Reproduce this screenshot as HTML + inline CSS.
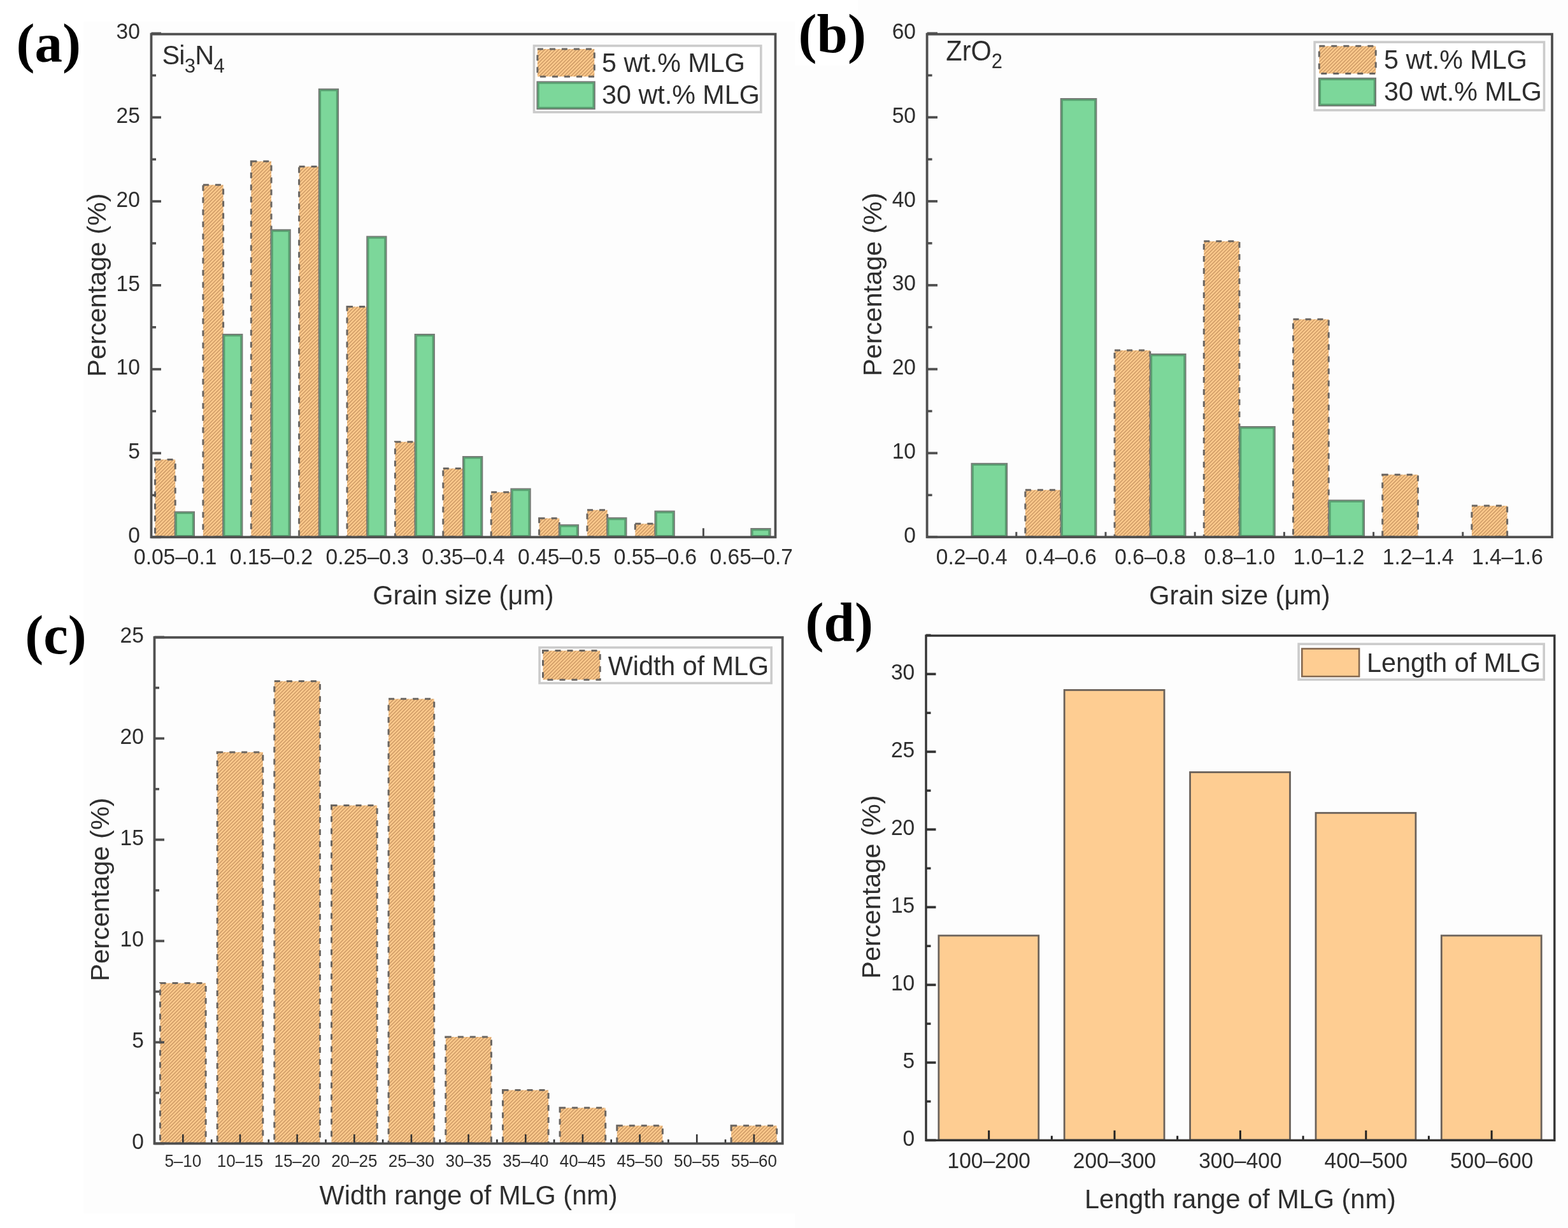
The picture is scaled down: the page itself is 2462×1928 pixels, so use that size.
<!DOCTYPE html>
<html lang="en"><head><meta charset="utf-8"><title>Grain size and MLG distributions</title>
<style>html,body{margin:0;padding:0;background:#fff;overflow:hidden;width:2462px;height:1928px}svg{display:block}</style>
</head><body>
<svg width="2462" height="1928" viewBox="0 0 2462 1928">
<defs>
<pattern id="hatch" patternUnits="userSpaceOnUse" width="3.9" height="3.9" patternTransform="rotate(45)"><rect width="3.9" height="3.9" fill="#ffcc8e"/><rect width="1.55" height="3.9" fill="#cb9863"/></pattern>
</defs>
<rect width="2462" height="1928" fill="#ffffff"/>
<rect x="131" y="34" width="1117" height="926" fill="#fdfdfd"/>
<rect x="1248" y="0" width="1214" height="960" fill="#fdfdfd"/>
<rect x="1248" y="0" width="99" height="103" fill="#ffffff"/>
<rect x="131" y="960" width="1117" height="945" fill="#fdfdfd"/>
<rect x="1248" y="960" width="1214" height="968" fill="#fdfdfd"/>
<line x1="1104.4" y1="843.3" x2="1104.4" y2="829.3" stroke="#4f4f4f" stroke-width="3"/>
<rect x="243.5" y="721.5" width="31.7" height="121.3" fill="url(#hatch)" stroke="#6b6661" stroke-width="3" stroke-dasharray="9 10"/>
<rect x="274.8" y="803.8" width="30.1" height="39.4" fill="#7cd79a" stroke="#767b76" stroke-width="2.2"/>
<rect x="276.8" y="805.8" width="26.1" height="35.4" fill="none" stroke="#58a070" stroke-width="2.4"/>
<rect x="318.9" y="290.3" width="31.7" height="552.5" fill="url(#hatch)" stroke="#6b6661" stroke-width="3" stroke-dasharray="9 10"/>
<rect x="350.2" y="525.1" width="30.1" height="318.1" fill="#7cd79a" stroke="#767b76" stroke-width="2.2"/>
<rect x="352.2" y="527.1" width="26.1" height="314.1" fill="none" stroke="#58a070" stroke-width="2.4"/>
<rect x="394.3" y="253.3" width="31.7" height="589.5" fill="url(#hatch)" stroke="#6b6661" stroke-width="3" stroke-dasharray="9 10"/>
<rect x="425.6" y="360.9" width="30.1" height="482.3" fill="#7cd79a" stroke="#767b76" stroke-width="2.2"/>
<rect x="427.6" y="362.9" width="26.1" height="478.3" fill="none" stroke="#58a070" stroke-width="2.4"/>
<rect x="469.6" y="261.5" width="31.7" height="581.3" fill="url(#hatch)" stroke="#6b6661" stroke-width="3" stroke-dasharray="9 10"/>
<rect x="500.9" y="140" width="30.1" height="703.2" fill="#7cd79a" stroke="#767b76" stroke-width="2.2"/>
<rect x="502.9" y="142" width="26.1" height="699.2" fill="none" stroke="#58a070" stroke-width="2.4"/>
<rect x="545" y="481.5" width="31.7" height="361.3" fill="url(#hatch)" stroke="#6b6661" stroke-width="3" stroke-dasharray="9 10"/>
<rect x="576.3" y="371.5" width="30.1" height="471.7" fill="#7cd79a" stroke="#767b76" stroke-width="2.2"/>
<rect x="578.3" y="373.5" width="26.1" height="467.7" fill="none" stroke="#58a070" stroke-width="2.4"/>
<rect x="620.4" y="693.7" width="31.7" height="149.1" fill="url(#hatch)" stroke="#6b6661" stroke-width="3" stroke-dasharray="9 10"/>
<rect x="651.7" y="525.1" width="30.1" height="318.1" fill="#7cd79a" stroke="#767b76" stroke-width="2.2"/>
<rect x="653.7" y="527.1" width="26.1" height="314.1" fill="none" stroke="#58a070" stroke-width="2.4"/>
<rect x="695.8" y="735.5" width="31.7" height="107.3" fill="url(#hatch)" stroke="#6b6661" stroke-width="3" stroke-dasharray="9 10"/>
<rect x="727.1" y="717.1" width="30.1" height="126.1" fill="#7cd79a" stroke="#767b76" stroke-width="2.2"/>
<rect x="729.1" y="719.1" width="26.1" height="122.1" fill="none" stroke="#58a070" stroke-width="2.4"/>
<rect x="771.2" y="772.8" width="31.7" height="70" fill="url(#hatch)" stroke="#6b6661" stroke-width="3" stroke-dasharray="9 10"/>
<rect x="802.5" y="767.6" width="30.1" height="75.6" fill="#7cd79a" stroke="#767b76" stroke-width="2.2"/>
<rect x="804.5" y="769.6" width="26.1" height="71.6" fill="none" stroke="#58a070" stroke-width="2.4"/>
<rect x="846.6" y="813.7" width="31.7" height="29.1" fill="url(#hatch)" stroke="#6b6661" stroke-width="3" stroke-dasharray="9 10"/>
<rect x="877.9" y="824.3" width="30.1" height="18.9" fill="#7cd79a" stroke="#767b76" stroke-width="2.2"/>
<rect x="879.9" y="826.3" width="26.1" height="14.9" fill="none" stroke="#58a070" stroke-width="2.4"/>
<rect x="922" y="800.7" width="31.7" height="42.1" fill="url(#hatch)" stroke="#6b6661" stroke-width="3" stroke-dasharray="9 10"/>
<rect x="953.3" y="813.3" width="30.1" height="29.9" fill="#7cd79a" stroke="#767b76" stroke-width="2.2"/>
<rect x="955.3" y="815.3" width="26.1" height="25.9" fill="none" stroke="#58a070" stroke-width="2.4"/>
<rect x="997.3" y="822.3" width="31.7" height="20.5" fill="url(#hatch)" stroke="#6b6661" stroke-width="3" stroke-dasharray="9 10"/>
<rect x="1028.6" y="802.7" width="30.1" height="40.5" fill="#7cd79a" stroke="#767b76" stroke-width="2.2"/>
<rect x="1030.6" y="804.7" width="26.1" height="36.5" fill="none" stroke="#58a070" stroke-width="2.4"/>
<rect x="1179.4" y="830.1" width="30.1" height="13.1" fill="#7cd79a" stroke="#767b76" stroke-width="2.2"/>
<rect x="1181.4" y="832.1" width="26.1" height="9.1" fill="none" stroke="#58a070" stroke-width="2.4"/>
<rect x="237.5" y="53.6" width="980" height="789.7" fill="none" stroke="#4f4f4f" stroke-width="3.8"/>
<line x1="237.5" y1="777.4" x2="245" y2="777.4" stroke="#4f4f4f" stroke-width="3.6"/>
<line x1="237.5" y1="645.6" x2="245" y2="645.6" stroke="#4f4f4f" stroke-width="3.6"/>
<line x1="237.5" y1="513.8" x2="245" y2="513.8" stroke="#4f4f4f" stroke-width="3.6"/>
<line x1="237.5" y1="382" x2="245" y2="382" stroke="#4f4f4f" stroke-width="3.6"/>
<line x1="237.5" y1="250.2" x2="245" y2="250.2" stroke="#4f4f4f" stroke-width="3.6"/>
<line x1="237.5" y1="118.4" x2="245" y2="118.4" stroke="#4f4f4f" stroke-width="3.6"/>
<line x1="237.5" y1="843.3" x2="253" y2="843.3" stroke="#4f4f4f" stroke-width="3.8"/>
<text transform="matrix(1 0 0 1.070 219.8 851.9)" font-size="33.5" text-anchor="end" font-family='"Liberation Sans", Arial, sans-serif' fill="#2e2e2e">0</text>
<line x1="237.5" y1="711.5" x2="253" y2="711.5" stroke="#4f4f4f" stroke-width="3.8"/>
<text transform="matrix(1 0 0 1.070 219.8 720.1)" font-size="33.5" text-anchor="end" font-family='"Liberation Sans", Arial, sans-serif' fill="#2e2e2e">5</text>
<line x1="237.5" y1="579.7" x2="253" y2="579.7" stroke="#4f4f4f" stroke-width="3.8"/>
<text transform="matrix(1 0 0 1.070 219.8 588.3)" font-size="33.5" text-anchor="end" font-family='"Liberation Sans", Arial, sans-serif' fill="#2e2e2e">10</text>
<line x1="237.5" y1="447.9" x2="253" y2="447.9" stroke="#4f4f4f" stroke-width="3.8"/>
<text transform="matrix(1 0 0 1.070 219.8 456.5)" font-size="33.5" text-anchor="end" font-family='"Liberation Sans", Arial, sans-serif' fill="#2e2e2e">15</text>
<line x1="237.5" y1="316.1" x2="253" y2="316.1" stroke="#4f4f4f" stroke-width="3.8"/>
<text transform="matrix(1 0 0 1.070 219.8 324.7)" font-size="33.5" text-anchor="end" font-family='"Liberation Sans", Arial, sans-serif' fill="#2e2e2e">20</text>
<line x1="237.5" y1="184.3" x2="253" y2="184.3" stroke="#4f4f4f" stroke-width="3.8"/>
<text transform="matrix(1 0 0 1.070 219.8 192.9)" font-size="33.5" text-anchor="end" font-family='"Liberation Sans", Arial, sans-serif' fill="#2e2e2e">25</text>
<line x1="237.5" y1="52.5" x2="253" y2="52.5" stroke="#4f4f4f" stroke-width="3.8"/>
<text transform="matrix(1 0 0 1.070 219.8 61.1)" font-size="33.5" text-anchor="end" font-family='"Liberation Sans", Arial, sans-serif' fill="#2e2e2e">30</text>
<text transform="matrix(1 0 0 1.030 275.2 886.3)" font-size="33.5" text-anchor="middle" font-family='"Liberation Sans", Arial, sans-serif' fill="#2e2e2e">0.05–0.1</text>
<text transform="matrix(1 0 0 1.030 426 886.3)" font-size="33.5" text-anchor="middle" font-family='"Liberation Sans", Arial, sans-serif' fill="#2e2e2e">0.15–0.2</text>
<text transform="matrix(1 0 0 1.030 576.7 886.3)" font-size="33.5" text-anchor="middle" font-family='"Liberation Sans", Arial, sans-serif' fill="#2e2e2e">0.25–0.3</text>
<text transform="matrix(1 0 0 1.030 727.5 886.3)" font-size="33.5" text-anchor="middle" font-family='"Liberation Sans", Arial, sans-serif' fill="#2e2e2e">0.35–0.4</text>
<text transform="matrix(1 0 0 1.030 878.3 886.3)" font-size="33.5" text-anchor="middle" font-family='"Liberation Sans", Arial, sans-serif' fill="#2e2e2e">0.45–0.5</text>
<text transform="matrix(1 0 0 1.030 1029 886.3)" font-size="33.5" text-anchor="middle" font-family='"Liberation Sans", Arial, sans-serif' fill="#2e2e2e">0.55–0.6</text>
<text transform="matrix(1 0 0 1.030 1179.8 886.3)" font-size="33.5" text-anchor="middle" font-family='"Liberation Sans", Arial, sans-serif' fill="#2e2e2e">0.65–0.7</text>
<text transform="matrix(1 0 0 1.030 727.5 949.4)" font-size="41.5" text-anchor="middle" font-family='"Liberation Sans", Arial, sans-serif' fill="#2e2e2e">Grain size (μm)</text>
<text x="0" y="0" font-size="41.5" text-anchor="middle" font-family='"Liberation Sans", Arial, sans-serif' fill="#2e2e2e" transform="translate(166 447.7) rotate(-90)">Percentage (%)</text>
<text x="25.5" y="96.5" font-size="87" text-anchor="start" font-family='"Liberation Serif", "Times New Roman", serif' fill="#000" font-weight="bold">(a)</text>
<text transform="matrix(1 0 0 1.030 254.5 101.3)" font-size="41.5" text-anchor="start" font-family='"Liberation Sans", Arial, sans-serif' fill="#2e2e2e" letter-spacing="-0.8">Si<tspan font-size="31" dy="12.5">3</tspan><tspan dy="-12.5">N</tspan><tspan font-size="31" dy="12.5">4</tspan></text>
<rect x="838.5" y="71.9" width="356.3" height="104.2" fill="#ffffff" stroke="#cbcbcb" stroke-width="3.6"/>
<rect x="843.9" y="76.9" width="89.4" height="43.3" fill="url(#hatch)" stroke="#6b6661" stroke-width="3" stroke-dasharray="9 10"/>
<rect x="843.5" y="128.5" width="90.2" height="42.5" fill="#7cd79a" stroke="#767b76" stroke-width="2.2"/>
<rect x="845.5" y="130.5" width="86.2" height="38.5" fill="none" stroke="#58a070" stroke-width="2.4"/>
<text transform="matrix(1 0 0 1.030 945 112.5)" font-size="41.3" text-anchor="start" font-family='"Liberation Sans", Arial, sans-serif' fill="#2e2e2e">5 wt.% MLG</text>
<text transform="matrix(1 0 0 1.030 945 163)" font-size="41.3" text-anchor="start" font-family='"Liberation Sans", Arial, sans-serif' fill="#2e2e2e">30 wt.% MLG</text>
<rect x="1525.6" y="727.9" width="55.5" height="115.2" fill="#7cd79a" stroke="#767b76" stroke-width="2.2"/>
<rect x="1527.6" y="729.9" width="51.5" height="111.2" fill="none" stroke="#58a070" stroke-width="2.4"/>
<rect x="1609.9" y="769.3" width="55.7" height="73.4" fill="url(#hatch)" stroke="#6b6661" stroke-width="3" stroke-dasharray="9 10"/>
<rect x="1665.8" y="155.1" width="55.5" height="688" fill="#7cd79a" stroke="#767b76" stroke-width="2.2"/>
<rect x="1667.8" y="157.1" width="51.5" height="684" fill="none" stroke="#58a070" stroke-width="2.4"/>
<rect x="1750.1" y="550.1" width="55.7" height="292.6" fill="url(#hatch)" stroke="#6b6661" stroke-width="3" stroke-dasharray="9 10"/>
<rect x="1806" y="556.1" width="55.5" height="287" fill="#7cd79a" stroke="#767b76" stroke-width="2.2"/>
<rect x="1808" y="558.1" width="51.5" height="283" fill="none" stroke="#58a070" stroke-width="2.4"/>
<rect x="1890.3" y="378.8" width="55.7" height="463.9" fill="url(#hatch)" stroke="#6b6661" stroke-width="3" stroke-dasharray="9 10"/>
<rect x="1946.2" y="670.1" width="55.5" height="173" fill="#7cd79a" stroke="#767b76" stroke-width="2.2"/>
<rect x="1948.2" y="672.1" width="51.5" height="169" fill="none" stroke="#58a070" stroke-width="2.4"/>
<rect x="2030.5" y="501.3" width="55.7" height="341.4" fill="url(#hatch)" stroke="#6b6661" stroke-width="3" stroke-dasharray="9 10"/>
<rect x="2086.4" y="785.6" width="55.5" height="57.5" fill="#7cd79a" stroke="#767b76" stroke-width="2.2"/>
<rect x="2088.4" y="787.6" width="51.5" height="53.5" fill="none" stroke="#58a070" stroke-width="2.4"/>
<rect x="2170.7" y="745.2" width="55.7" height="97.5" fill="url(#hatch)" stroke="#6b6661" stroke-width="3" stroke-dasharray="9 10"/>
<rect x="2310.9" y="794.1" width="55.7" height="48.6" fill="url(#hatch)" stroke="#6b6661" stroke-width="3" stroke-dasharray="9 10"/>
<line x1="1595.8" y1="843.2" x2="1595.8" y2="835.2" stroke="#4f4f4f" stroke-width="3"/>
<line x1="1736" y1="843.2" x2="1736" y2="835.2" stroke="#4f4f4f" stroke-width="3"/>
<line x1="1876.2" y1="843.2" x2="1876.2" y2="835.2" stroke="#4f4f4f" stroke-width="3"/>
<line x1="2016.4" y1="843.2" x2="2016.4" y2="835.2" stroke="#4f4f4f" stroke-width="3"/>
<line x1="2156.6" y1="843.2" x2="2156.6" y2="835.2" stroke="#4f4f4f" stroke-width="3"/>
<line x1="2296.8" y1="843.2" x2="2296.8" y2="835.2" stroke="#4f4f4f" stroke-width="3"/>
<rect x="1455.6" y="53.7" width="981.4" height="789.5" fill="none" stroke="#4f4f4f" stroke-width="3.8"/>
<line x1="1455.6" y1="777.3" x2="1463.6" y2="777.3" stroke="#4f4f4f" stroke-width="3.6"/>
<line x1="1455.6" y1="645.5" x2="1463.6" y2="645.5" stroke="#4f4f4f" stroke-width="3.6"/>
<line x1="1455.6" y1="513.7" x2="1463.6" y2="513.7" stroke="#4f4f4f" stroke-width="3.6"/>
<line x1="1455.6" y1="381.9" x2="1463.6" y2="381.9" stroke="#4f4f4f" stroke-width="3.6"/>
<line x1="1455.6" y1="250.1" x2="1463.6" y2="250.1" stroke="#4f4f4f" stroke-width="3.6"/>
<line x1="1455.6" y1="118.3" x2="1463.6" y2="118.3" stroke="#4f4f4f" stroke-width="3.6"/>
<line x1="1455.6" y1="843.2" x2="1472" y2="843.2" stroke="#4f4f4f" stroke-width="3.8"/>
<text transform="matrix(1 0 0 1.070 1438 851.8)" font-size="33.5" text-anchor="end" font-family='"Liberation Sans", Arial, sans-serif' fill="#2e2e2e">0</text>
<line x1="1455.6" y1="711.4" x2="1472" y2="711.4" stroke="#4f4f4f" stroke-width="3.8"/>
<text transform="matrix(1 0 0 1.070 1438 720)" font-size="33.5" text-anchor="end" font-family='"Liberation Sans", Arial, sans-serif' fill="#2e2e2e">10</text>
<line x1="1455.6" y1="579.6" x2="1472" y2="579.6" stroke="#4f4f4f" stroke-width="3.8"/>
<text transform="matrix(1 0 0 1.070 1438 588.2)" font-size="33.5" text-anchor="end" font-family='"Liberation Sans", Arial, sans-serif' fill="#2e2e2e">20</text>
<line x1="1455.6" y1="447.8" x2="1472" y2="447.8" stroke="#4f4f4f" stroke-width="3.8"/>
<text transform="matrix(1 0 0 1.070 1438 456.4)" font-size="33.5" text-anchor="end" font-family='"Liberation Sans", Arial, sans-serif' fill="#2e2e2e">30</text>
<line x1="1455.6" y1="316" x2="1472" y2="316" stroke="#4f4f4f" stroke-width="3.8"/>
<text transform="matrix(1 0 0 1.070 1438 324.6)" font-size="33.5" text-anchor="end" font-family='"Liberation Sans", Arial, sans-serif' fill="#2e2e2e">40</text>
<line x1="1455.6" y1="184.2" x2="1472" y2="184.2" stroke="#4f4f4f" stroke-width="3.8"/>
<text transform="matrix(1 0 0 1.070 1438 192.8)" font-size="33.5" text-anchor="end" font-family='"Liberation Sans", Arial, sans-serif' fill="#2e2e2e">50</text>
<line x1="1455.6" y1="52.4" x2="1472" y2="52.4" stroke="#4f4f4f" stroke-width="3.8"/>
<text transform="matrix(1 0 0 1.070 1438 61)" font-size="33.5" text-anchor="end" font-family='"Liberation Sans", Arial, sans-serif' fill="#2e2e2e">60</text>
<text transform="matrix(1 0 0 1.030 1525.7 886)" font-size="33.5" text-anchor="middle" font-family='"Liberation Sans", Arial, sans-serif' fill="#2e2e2e">0.2–0.4</text>
<text transform="matrix(1 0 0 1.030 1665.9 886)" font-size="33.5" text-anchor="middle" font-family='"Liberation Sans", Arial, sans-serif' fill="#2e2e2e">0.4–0.6</text>
<text transform="matrix(1 0 0 1.030 1806.1 886)" font-size="33.5" text-anchor="middle" font-family='"Liberation Sans", Arial, sans-serif' fill="#2e2e2e">0.6–0.8</text>
<text transform="matrix(1 0 0 1.030 1946.3 886)" font-size="33.5" text-anchor="middle" font-family='"Liberation Sans", Arial, sans-serif' fill="#2e2e2e">0.8–1.0</text>
<text transform="matrix(1 0 0 1.030 2086.5 886)" font-size="33.5" text-anchor="middle" font-family='"Liberation Sans", Arial, sans-serif' fill="#2e2e2e">1.0–1.2</text>
<text transform="matrix(1 0 0 1.030 2226.7 886)" font-size="33.5" text-anchor="middle" font-family='"Liberation Sans", Arial, sans-serif' fill="#2e2e2e">1.2–1.4</text>
<text transform="matrix(1 0 0 1.030 2366.9 886)" font-size="33.5" text-anchor="middle" font-family='"Liberation Sans", Arial, sans-serif' fill="#2e2e2e">1.4–1.6</text>
<text transform="matrix(1 0 0 1.030 1946.5 949.3)" font-size="41.5" text-anchor="middle" font-family='"Liberation Sans", Arial, sans-serif' fill="#2e2e2e">Grain size (μm)</text>
<text x="0" y="0" font-size="41.5" text-anchor="middle" font-family='"Liberation Sans", Arial, sans-serif' fill="#2e2e2e" transform="translate(1384 446.7) rotate(-90)">Percentage (%)</text>
<text x="1253.6" y="82.4" font-size="87" text-anchor="start" font-family='"Liberation Serif", "Times New Roman", serif' fill="#000" font-weight="bold">(b)</text>
<text transform="matrix(1 0 0 1.070 1485.3 95.3)" font-size="41.5" text-anchor="start" font-family='"Liberation Sans", Arial, sans-serif' fill="#2e2e2e">ZrO<tspan font-size="31" dy="11">2</tspan></text>
<rect x="2064.1" y="66.1" width="360.4" height="106.9" fill="#ffffff" stroke="#cbcbcb" stroke-width="3.6"/>
<rect x="2071.3" y="72.3" width="88.9" height="43.2" fill="url(#hatch)" stroke="#6b6661" stroke-width="3" stroke-dasharray="9 10"/>
<rect x="2070.9" y="122.9" width="89" height="43.1" fill="#7cd79a" stroke="#767b76" stroke-width="2.2"/>
<rect x="2072.9" y="124.9" width="85" height="39.1" fill="none" stroke="#58a070" stroke-width="2.4"/>
<text transform="matrix(1 0 0 1.030 2173 108.4)" font-size="41.3" text-anchor="start" font-family='"Liberation Sans", Arial, sans-serif' fill="#2e2e2e">5 wt.% MLG</text>
<text transform="matrix(1 0 0 1.030 2173 158.4)" font-size="41.3" text-anchor="start" font-family='"Liberation Sans", Arial, sans-serif' fill="#2e2e2e">30 wt.% MLG</text>
<rect x="251.5" y="1543.5" width="71.6" height="251.4" fill="url(#hatch)" stroke="#6b6661" stroke-width="3" stroke-dasharray="9 10"/>
<rect x="341.2" y="1180.9" width="71.6" height="614" fill="url(#hatch)" stroke="#6b6661" stroke-width="3" stroke-dasharray="9 10"/>
<rect x="430.8" y="1069.5" width="71.6" height="725.4" fill="url(#hatch)" stroke="#6b6661" stroke-width="3" stroke-dasharray="9 10"/>
<rect x="520.5" y="1264.5" width="71.6" height="530.4" fill="url(#hatch)" stroke="#6b6661" stroke-width="3" stroke-dasharray="9 10"/>
<rect x="610.1" y="1097.3" width="71.6" height="697.6" fill="url(#hatch)" stroke="#6b6661" stroke-width="3" stroke-dasharray="9 10"/>
<rect x="699.8" y="1628" width="71.6" height="166.9" fill="url(#hatch)" stroke="#6b6661" stroke-width="3" stroke-dasharray="9 10"/>
<rect x="789.5" y="1711.5" width="71.6" height="83.4" fill="url(#hatch)" stroke="#6b6661" stroke-width="3" stroke-dasharray="9 10"/>
<rect x="879.1" y="1739.3" width="71.6" height="55.6" fill="url(#hatch)" stroke="#6b6661" stroke-width="3" stroke-dasharray="9 10"/>
<rect x="968.8" y="1767.3" width="71.6" height="27.6" fill="url(#hatch)" stroke="#6b6661" stroke-width="3" stroke-dasharray="9 10"/>
<rect x="1148.1" y="1767.3" width="71.6" height="27.6" fill="url(#hatch)" stroke="#6b6661" stroke-width="3" stroke-dasharray="9 10"/>
<line x1="287.3" y1="1795.4" x2="287.3" y2="1780.9" stroke="#333" stroke-width="2.6"/>
<line x1="377" y1="1795.4" x2="377" y2="1780.9" stroke="#333" stroke-width="2.6"/>
<line x1="466.6" y1="1795.4" x2="466.6" y2="1780.9" stroke="#333" stroke-width="2.6"/>
<line x1="556.3" y1="1795.4" x2="556.3" y2="1780.9" stroke="#333" stroke-width="2.6"/>
<line x1="645.9" y1="1795.4" x2="645.9" y2="1780.9" stroke="#333" stroke-width="2.6"/>
<line x1="735.6" y1="1795.4" x2="735.6" y2="1780.9" stroke="#333" stroke-width="2.6"/>
<line x1="825.3" y1="1795.4" x2="825.3" y2="1780.9" stroke="#333" stroke-width="2.6"/>
<line x1="914.9" y1="1795.4" x2="914.9" y2="1780.9" stroke="#333" stroke-width="2.6"/>
<line x1="1004.6" y1="1795.4" x2="1004.6" y2="1780.9" stroke="#333" stroke-width="2.6"/>
<line x1="1094.2" y1="1795.4" x2="1094.2" y2="1780.9" stroke="#333" stroke-width="2.6"/>
<line x1="1183.9" y1="1795.4" x2="1183.9" y2="1780.9" stroke="#333" stroke-width="2.6"/>
<line x1="332.2" y1="1795.4" x2="332.2" y2="1788.9" stroke="#333" stroke-width="2.6"/>
<line x1="421.8" y1="1795.4" x2="421.8" y2="1788.9" stroke="#333" stroke-width="2.6"/>
<line x1="511.5" y1="1795.4" x2="511.5" y2="1788.9" stroke="#333" stroke-width="2.6"/>
<line x1="601.1" y1="1795.4" x2="601.1" y2="1788.9" stroke="#333" stroke-width="2.6"/>
<line x1="690.8" y1="1795.4" x2="690.8" y2="1788.9" stroke="#333" stroke-width="2.6"/>
<line x1="780.4" y1="1795.4" x2="780.4" y2="1788.9" stroke="#333" stroke-width="2.6"/>
<line x1="870.1" y1="1795.4" x2="870.1" y2="1788.9" stroke="#333" stroke-width="2.6"/>
<line x1="959.7" y1="1795.4" x2="959.7" y2="1788.9" stroke="#333" stroke-width="2.6"/>
<line x1="1049.4" y1="1795.4" x2="1049.4" y2="1788.9" stroke="#333" stroke-width="2.6"/>
<line x1="1139" y1="1795.4" x2="1139" y2="1788.9" stroke="#333" stroke-width="2.6"/>
<rect x="242.5" y="1000.8" width="986.2" height="794.6" fill="none" stroke="#4f4f4f" stroke-width="3.8"/>
<line x1="242.5" y1="1715.9" x2="250" y2="1715.9" stroke="#4f4f4f" stroke-width="3.6"/>
<line x1="242.5" y1="1556.9" x2="250" y2="1556.9" stroke="#4f4f4f" stroke-width="3.6"/>
<line x1="242.5" y1="1397.9" x2="250" y2="1397.9" stroke="#4f4f4f" stroke-width="3.6"/>
<line x1="242.5" y1="1238.9" x2="250" y2="1238.9" stroke="#4f4f4f" stroke-width="3.6"/>
<line x1="242.5" y1="1079.9" x2="250" y2="1079.9" stroke="#4f4f4f" stroke-width="3.6"/>
<line x1="242.5" y1="1795.4" x2="258" y2="1795.4" stroke="#4f4f4f" stroke-width="3.8"/>
<text transform="matrix(1 0 0 1.070 225.8 1804)" font-size="33.5" text-anchor="end" font-family='"Liberation Sans", Arial, sans-serif' fill="#2e2e2e">0</text>
<line x1="242.5" y1="1636.4" x2="258" y2="1636.4" stroke="#4f4f4f" stroke-width="3.8"/>
<text transform="matrix(1 0 0 1.070 225.8 1645)" font-size="33.5" text-anchor="end" font-family='"Liberation Sans", Arial, sans-serif' fill="#2e2e2e">5</text>
<line x1="242.5" y1="1477.4" x2="258" y2="1477.4" stroke="#4f4f4f" stroke-width="3.8"/>
<text transform="matrix(1 0 0 1.070 225.8 1486)" font-size="33.5" text-anchor="end" font-family='"Liberation Sans", Arial, sans-serif' fill="#2e2e2e">10</text>
<line x1="242.5" y1="1318.4" x2="258" y2="1318.4" stroke="#4f4f4f" stroke-width="3.8"/>
<text transform="matrix(1 0 0 1.070 225.8 1327)" font-size="33.5" text-anchor="end" font-family='"Liberation Sans", Arial, sans-serif' fill="#2e2e2e">15</text>
<line x1="242.5" y1="1159.4" x2="258" y2="1159.4" stroke="#4f4f4f" stroke-width="3.8"/>
<text transform="matrix(1 0 0 1.070 225.8 1168)" font-size="33.5" text-anchor="end" font-family='"Liberation Sans", Arial, sans-serif' fill="#2e2e2e">20</text>
<line x1="242.5" y1="1000.4" x2="258" y2="1000.4" stroke="#4f4f4f" stroke-width="3.8"/>
<text transform="matrix(1 0 0 1.070 225.8 1009)" font-size="33.5" text-anchor="end" font-family='"Liberation Sans", Arial, sans-serif' fill="#2e2e2e">25</text>
<text transform="matrix(1 0 0 1.030 287.3 1832.2)" font-size="26" text-anchor="middle" font-family='"Liberation Sans", Arial, sans-serif' fill="#2e2e2e">5–10</text>
<text transform="matrix(1 0 0 1.030 377 1832.2)" font-size="26" text-anchor="middle" font-family='"Liberation Sans", Arial, sans-serif' fill="#2e2e2e">10–15</text>
<text transform="matrix(1 0 0 1.030 466.6 1832.2)" font-size="26" text-anchor="middle" font-family='"Liberation Sans", Arial, sans-serif' fill="#2e2e2e">15–20</text>
<text transform="matrix(1 0 0 1.030 556.3 1832.2)" font-size="26" text-anchor="middle" font-family='"Liberation Sans", Arial, sans-serif' fill="#2e2e2e">20–25</text>
<text transform="matrix(1 0 0 1.030 645.9 1832.2)" font-size="26" text-anchor="middle" font-family='"Liberation Sans", Arial, sans-serif' fill="#2e2e2e">25–30</text>
<text transform="matrix(1 0 0 1.030 735.6 1832.2)" font-size="26" text-anchor="middle" font-family='"Liberation Sans", Arial, sans-serif' fill="#2e2e2e">30–35</text>
<text transform="matrix(1 0 0 1.030 825.3 1832.2)" font-size="26" text-anchor="middle" font-family='"Liberation Sans", Arial, sans-serif' fill="#2e2e2e">35–40</text>
<text transform="matrix(1 0 0 1.030 914.9 1832.2)" font-size="26" text-anchor="middle" font-family='"Liberation Sans", Arial, sans-serif' fill="#2e2e2e">40–45</text>
<text transform="matrix(1 0 0 1.030 1004.6 1832.2)" font-size="26" text-anchor="middle" font-family='"Liberation Sans", Arial, sans-serif' fill="#2e2e2e">45–50</text>
<text transform="matrix(1 0 0 1.030 1094.2 1832.2)" font-size="26" text-anchor="middle" font-family='"Liberation Sans", Arial, sans-serif' fill="#2e2e2e">50–55</text>
<text transform="matrix(1 0 0 1.030 1183.9 1832.2)" font-size="26" text-anchor="middle" font-family='"Liberation Sans", Arial, sans-serif' fill="#2e2e2e">55–60</text>
<text transform="matrix(1 0 0 1.030 735.6 1891.2)" font-size="41.5" text-anchor="middle" font-family='"Liberation Sans", Arial, sans-serif' fill="#2e2e2e">Width range of MLG (nm)</text>
<text x="0" y="0" font-size="41.5" text-anchor="middle" font-family='"Liberation Sans", Arial, sans-serif' fill="#2e2e2e" transform="translate(171.3 1396.5) rotate(-90)">Percentage (%)</text>
<text x="39.2" y="1025.5" font-size="87" text-anchor="start" font-family='"Liberation Serif", "Times New Roman", serif' fill="#000" font-weight="bold">(c)</text>
<rect x="847.1" y="1016.6" width="364.1" height="55.9" fill="#ffffff" stroke="#cbcbcb" stroke-width="3.6"/>
<rect x="852.5" y="1021.6" width="89.7" height="45.6" fill="url(#hatch)" stroke="#6b6661" stroke-width="3" stroke-dasharray="9 10"/>
<text transform="matrix(1 0 0 1.030 954.8 1059.6)" font-size="41.3" text-anchor="start" font-family='"Liberation Sans", Arial, sans-serif' fill="#2e2e2e">Width of MLG</text>
<rect x="1473.9" y="1468.9" width="156.9" height="321" fill="#fecd92" stroke="#6b625a" stroke-width="2.8"/>
<rect x="1671.2" y="1083.4" width="156.9" height="706.5" fill="#fecd92" stroke="#6b625a" stroke-width="2.8"/>
<rect x="1868.6" y="1212.4" width="156.9" height="577.5" fill="#fecd92" stroke="#6b625a" stroke-width="2.8"/>
<rect x="2066" y="1276.3" width="156.9" height="513.6" fill="#fecd92" stroke="#6b625a" stroke-width="2.8"/>
<rect x="2263.3" y="1468.9" width="156.9" height="321" fill="#fecd92" stroke="#6b625a" stroke-width="2.8"/>
<line x1="1552.7" y1="1790.3" x2="1552.7" y2="1774.8" stroke="#222" stroke-width="3"/>
<line x1="1750" y1="1790.3" x2="1750" y2="1774.8" stroke="#222" stroke-width="3"/>
<line x1="1947.4" y1="1790.3" x2="1947.4" y2="1774.8" stroke="#222" stroke-width="3"/>
<line x1="2144.8" y1="1790.3" x2="2144.8" y2="1774.8" stroke="#222" stroke-width="3"/>
<line x1="2342.1" y1="1790.3" x2="2342.1" y2="1774.8" stroke="#222" stroke-width="3"/>
<line x1="1651.4" y1="1790.3" x2="1651.4" y2="1783.3" stroke="#222" stroke-width="3"/>
<line x1="1848.7" y1="1790.3" x2="1848.7" y2="1783.3" stroke="#222" stroke-width="3"/>
<line x1="2046.1" y1="1790.3" x2="2046.1" y2="1783.3" stroke="#222" stroke-width="3"/>
<line x1="2243.4" y1="1790.3" x2="2243.4" y2="1783.3" stroke="#222" stroke-width="3"/>
<rect x="1454" y="998" width="986.8" height="792.3" fill="none" stroke="#333333" stroke-width="3.4"/>
<line x1="1454" y1="1729.3" x2="1461.5" y2="1729.3" stroke="#333333" stroke-width="3.6"/>
<line x1="1454" y1="1607.3" x2="1461.5" y2="1607.3" stroke="#333333" stroke-width="3.6"/>
<line x1="1454" y1="1485.3" x2="1461.5" y2="1485.3" stroke="#333333" stroke-width="3.6"/>
<line x1="1454" y1="1363.3" x2="1461.5" y2="1363.3" stroke="#333333" stroke-width="3.6"/>
<line x1="1454" y1="1241.3" x2="1461.5" y2="1241.3" stroke="#333333" stroke-width="3.6"/>
<line x1="1454" y1="1119.3" x2="1461.5" y2="1119.3" stroke="#333333" stroke-width="3.6"/>
<line x1="1454" y1="997.3" x2="1461.5" y2="997.3" stroke="#333333" stroke-width="3.6"/>
<line x1="1454" y1="1790.3" x2="1469.5" y2="1790.3" stroke="#333333" stroke-width="3.8"/>
<text transform="matrix(1 0 0 1.070 1436.2 1798.9)" font-size="33.5" text-anchor="end" font-family='"Liberation Sans", Arial, sans-serif' fill="#2e2e2e">0</text>
<line x1="1454" y1="1668.3" x2="1469.5" y2="1668.3" stroke="#333333" stroke-width="3.8"/>
<text transform="matrix(1 0 0 1.070 1436.2 1676.9)" font-size="33.5" text-anchor="end" font-family='"Liberation Sans", Arial, sans-serif' fill="#2e2e2e">5</text>
<line x1="1454" y1="1546.3" x2="1469.5" y2="1546.3" stroke="#333333" stroke-width="3.8"/>
<text transform="matrix(1 0 0 1.070 1436.2 1554.9)" font-size="33.5" text-anchor="end" font-family='"Liberation Sans", Arial, sans-serif' fill="#2e2e2e">10</text>
<line x1="1454" y1="1424.3" x2="1469.5" y2="1424.3" stroke="#333333" stroke-width="3.8"/>
<text transform="matrix(1 0 0 1.070 1436.2 1432.9)" font-size="33.5" text-anchor="end" font-family='"Liberation Sans", Arial, sans-serif' fill="#2e2e2e">15</text>
<line x1="1454" y1="1302.3" x2="1469.5" y2="1302.3" stroke="#333333" stroke-width="3.8"/>
<text transform="matrix(1 0 0 1.070 1436.2 1310.9)" font-size="33.5" text-anchor="end" font-family='"Liberation Sans", Arial, sans-serif' fill="#2e2e2e">20</text>
<line x1="1454" y1="1180.3" x2="1469.5" y2="1180.3" stroke="#333333" stroke-width="3.8"/>
<text transform="matrix(1 0 0 1.070 1436.2 1188.9)" font-size="33.5" text-anchor="end" font-family='"Liberation Sans", Arial, sans-serif' fill="#2e2e2e">25</text>
<line x1="1454" y1="1058.3" x2="1469.5" y2="1058.3" stroke="#333333" stroke-width="3.8"/>
<text transform="matrix(1 0 0 1.070 1436.2 1066.9)" font-size="33.5" text-anchor="end" font-family='"Liberation Sans", Arial, sans-serif' fill="#2e2e2e">30</text>
<text transform="matrix(1 0 0 1.030 1552.7 1833.9)" font-size="33.5" text-anchor="middle" font-family='"Liberation Sans", Arial, sans-serif' fill="#2e2e2e">100–200</text>
<text transform="matrix(1 0 0 1.030 1750 1833.9)" font-size="33.5" text-anchor="middle" font-family='"Liberation Sans", Arial, sans-serif' fill="#2e2e2e">200–300</text>
<text transform="matrix(1 0 0 1.030 1947.4 1833.9)" font-size="33.5" text-anchor="middle" font-family='"Liberation Sans", Arial, sans-serif' fill="#2e2e2e">300–400</text>
<text transform="matrix(1 0 0 1.030 2144.8 1833.9)" font-size="33.5" text-anchor="middle" font-family='"Liberation Sans", Arial, sans-serif' fill="#2e2e2e">400–500</text>
<text transform="matrix(1 0 0 1.030 2342.1 1833.9)" font-size="33.5" text-anchor="middle" font-family='"Liberation Sans", Arial, sans-serif' fill="#2e2e2e">500–600</text>
<text transform="matrix(1 0 0 1.030 1947.4 1896.5)" font-size="41.5" text-anchor="middle" font-family='"Liberation Sans", Arial, sans-serif' fill="#2e2e2e">Length range of MLG (nm)</text>
<text x="0" y="0" font-size="41.5" text-anchor="middle" font-family='"Liberation Sans", Arial, sans-serif' fill="#2e2e2e" transform="translate(1381.6 1392.6) rotate(-90)">Percentage (%)</text>
<text x="1264.6" y="1005.9" font-size="87" text-anchor="start" font-family='"Liberation Serif", "Times New Roman", serif' fill="#000" font-weight="bold">(d)</text>
<rect x="2039.1" y="1011.1" width="385.1" height="55.9" fill="#ffffff" stroke="#cbcbcb" stroke-width="3.6"/>
<rect x="2044.3" y="1018.5" width="89.8" height="43.6" fill="#fecd92" stroke="#84684f" stroke-width="2.6"/>
<text transform="matrix(1 0 0 1.030 2146 1054.6)" font-size="41.3" text-anchor="start" font-family='"Liberation Sans", Arial, sans-serif' fill="#2e2e2e">Length of MLG</text>
</svg>
</body></html>
